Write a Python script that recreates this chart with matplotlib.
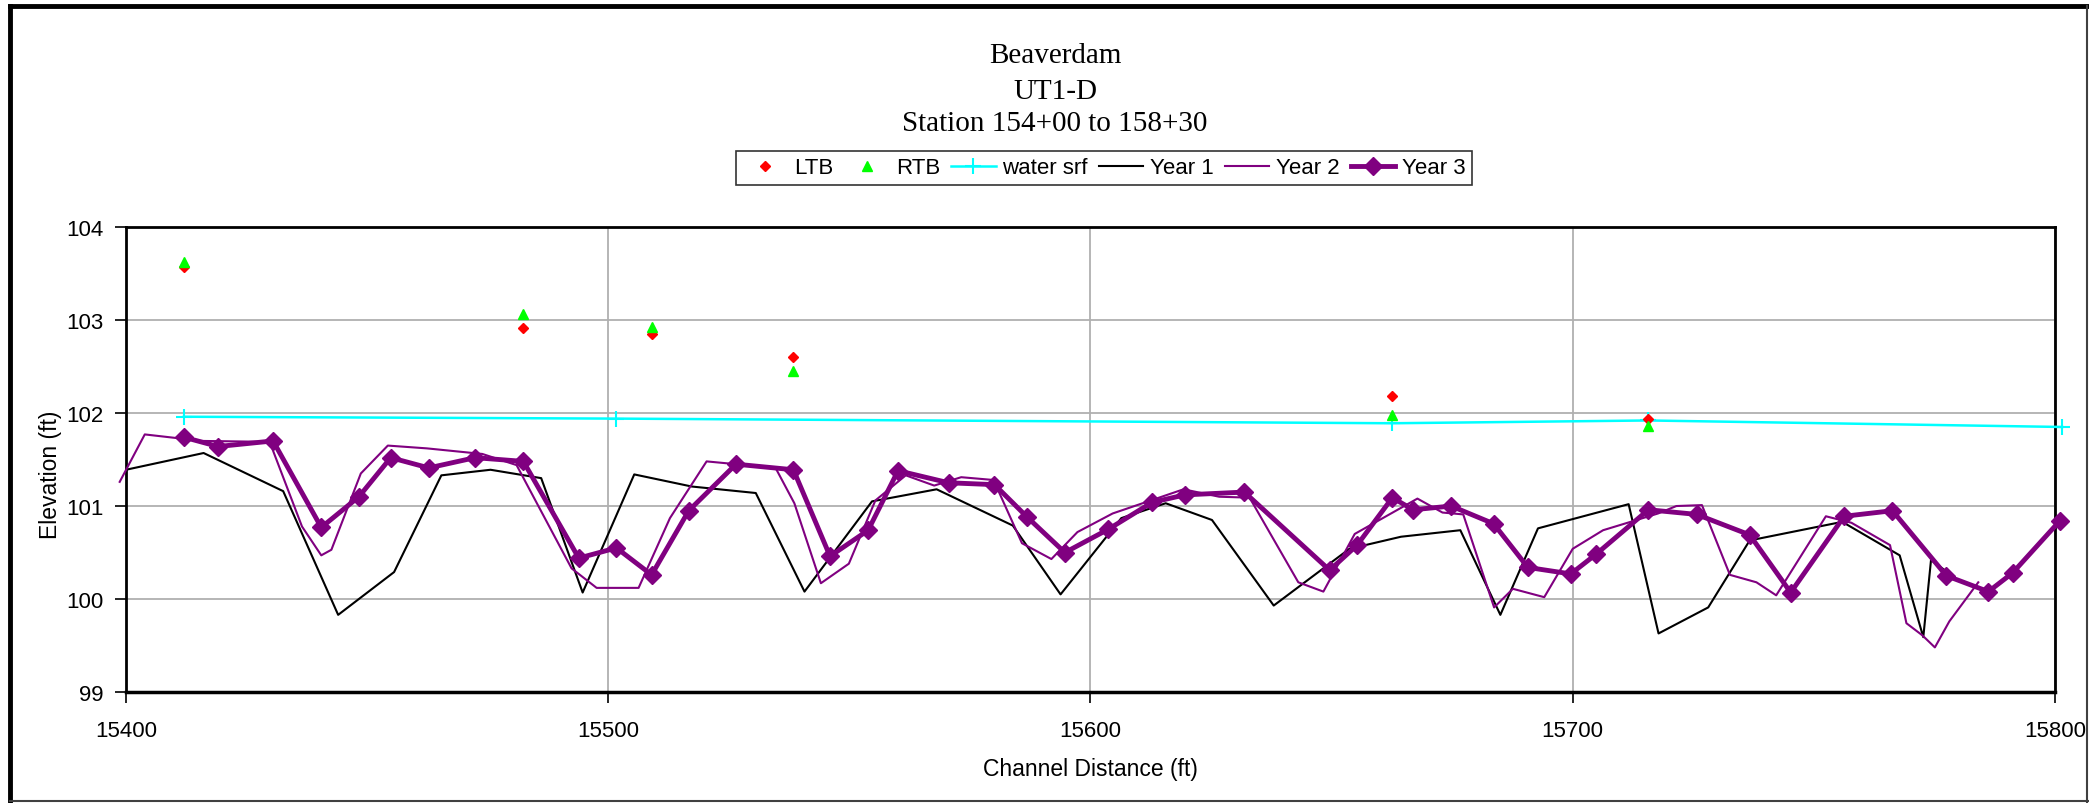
import numpy as np
import matplotlib.pyplot as plt
from matplotlib.lines import Line2D

# bank points
bank_x = [15412.0, 15482.4, 15509.0, 15538.4, 15662.6, 15715.7]
ltb = [103.57, 102.91, 102.85, 102.60, 102.18, 101.94]
rtb = [103.62, 103.07, 102.92, 102.45, 101.98, 101.86]

# water surface
ws_x = [15412.0, 15501.7, 15662.6, 15715.7, 15801.5]
ws_y = [101.96, 101.94, 101.89, 101.92, 101.85]

# Year 1 profile
y1_x = [15400.0, 15416.1, 15432.6, 15444.0, 15455.6, 15465.4, 15475.6, 15486.1,
        15494.7, 15505.4, 15517.3, 15530.6, 15540.7, 15554.7, 15568.1, 15583.9,
        15593.8, 15606.4, 15615.6, 15625.2, 15638.0, 15653.7, 15664.4, 15676.7,
        15685.0, 15692.8, 15711.6, 15717.8, 15728.1, 15736.7, 15755.9, 15767.8,
        15772.7, 15774.3, 15778.2]
y1_y = [101.39, 101.57, 101.16, 99.83, 100.29, 101.33, 101.39, 101.30,
        100.07, 101.34, 101.21, 101.14, 100.08, 101.05, 101.18, 100.79,
        100.05, 100.87, 101.03, 100.85, 99.93, 100.54, 100.67, 100.74,
        99.83, 100.76, 101.02, 99.63, 99.91, 100.63, 100.83, 100.47,
        99.59, 100.42, 100.27]

# Year 2 profile
y2_x = [15398.7, 15403.9, 15415.7, 15429.8, 15436.5, 15440.5, 15442.6, 15448.7,
        15454.3, 15462.4, 15473.9, 15481.0, 15492.4, 15497.6, 15506.3, 15512.8,
        15520.4, 15534.7, 15538.6, 15544.1, 15549.9, 15555.4, 15561.7, 15567.6,
        15573.2, 15579.9, 15585.8, 15591.9, 15597.3, 15604.6, 15619.3, 15626.7,
        15633.0, 15643.1, 15648.3, 15654.8, 15667.8, 15673.0, 15677.3, 15683.7,
        15687.6, 15694.1, 15700.0, 15706.3, 15717.7, 15721.5, 15726.8, 15732.6,
        15738.1, 15742.2, 15752.5, 15757.8, 15765.8, 15769.2, 15772.5, 15775.1,
        15778.1, 15784.1]
y2_y = [101.26, 101.77, 101.70, 101.69, 100.78, 100.47, 100.53, 101.35,
        101.65, 101.62, 101.56, 101.44, 100.33, 100.12, 100.12, 100.87,
        101.48, 101.41, 101.03, 100.17, 100.38, 101.06, 101.33, 101.22,
        101.31, 101.28, 100.60, 100.43, 100.72, 100.92, 101.18, 101.10,
        101.09, 100.18, 100.08, 100.70, 101.08, 100.93, 100.91, 99.91,
        100.11, 100.02, 100.54, 100.74, 100.92, 101.00, 101.01, 100.26,
        100.18, 100.04, 100.89, 100.82, 100.58, 99.74, 99.61, 99.48,
        99.76, 100.18]

# Year 3 profile
y3_x = [15412.0, 15419.1, 15430.5, 15440.5, 15448.3, 15454.9, 15462.8, 15472.4,
        15482.4, 15493.9, 15501.7, 15509.0, 15516.7, 15526.5, 15538.4, 15546.0,
        15553.9, 15560.1, 15570.6, 15580.1, 15586.9, 15594.7, 15603.7, 15612.8,
        15619.6, 15631.9, 15649.6, 15655.3, 15662.6, 15666.9, 15674.8, 15683.6,
        15690.7, 15699.6, 15704.8, 15715.7, 15725.7, 15736.7, 15745.2, 15756.3,
        15766.3, 15777.5, 15786.2, 15791.2, 15801.0]
y3_y = [101.74, 101.64, 101.70, 100.77, 101.10, 101.52, 101.41, 101.52,
        101.48, 100.44, 100.55, 100.26, 100.95, 101.45, 101.39, 100.46,
        100.74, 101.38, 101.25, 101.23, 100.88, 100.50, 100.75, 101.04,
        101.12, 101.15, 100.31, 100.58, 101.09, 100.96, 101.00, 100.81,
        100.34, 100.27, 100.48, 100.96, 100.91, 100.69, 100.07, 100.89,
        100.95, 100.25, 100.08, 100.28, 100.84]

plt.rcParams['font.family'] = ['Liberation Sans', 'DejaVu Sans']

fig = plt.figure(figsize=(20.89, 8.04), dpi=100)
ax = fig.add_axes([0.0603, 0.138, 0.9234, 0.5784])

ax.plot(bank_x, ltb, linestyle='none', marker='D', color='red', markersize=5, label='LTB', zorder=5)
ax.plot(bank_x, rtb, linestyle='none', marker='^', color='#00ff00', markersize=7, label='RTB', zorder=5)
ax.plot(ws_x, ws_y, color='cyan', lw=1.8, marker='+', markersize=12, mew=1.5,
        label='water srf', clip_on=False, zorder=4)
ax.plot(y1_x, y1_y, color='black', lw=1.5, label='Year 1', zorder=3)
ax.plot(y2_x, y2_y, color='#800080', lw=1.5, label='Year 2', clip_on=False, zorder=3)
ax.plot(y3_x, y3_y, color='#800080', lw=3.5, marker='D', markersize=9, label='Year 3',
        clip_on=False, zorder=4)

ax.set_xlim(15400, 15800)
ax.set_ylim(99, 104)
ax.set_xticks([15400, 15500, 15600, 15700, 15800])
ax.set_yticks([99, 100, 101, 102, 103, 104])
ax.grid(True, color='#b0b0b0', lw=1.3)
ax.set_axisbelow(True)
ax.tick_params(direction='out', length=8, width=1.2, labelsize=16, pad=8)
ax.tick_params(axis='x', pad=12)
for side in ax.spines.values():
    side.set_linewidth(2)
ax.spines['bottom'].set_linewidth(2.5)

ax.set_xlabel('Channel Distance (ft)', fontsize=16.5, labelpad=12)
ax.set_ylabel('Elevation (ft)', fontsize=16.5)
ax.yaxis.set_label_coords(-0.033, 0.47)

tfont = ['Liberation Serif', 'DejaVu Serif']
fig.text(0.505, 0.930, 'Beaverdam', ha='center', va='center', fontsize=21, family=tfont)
fig.text(0.505, 0.885, 'UT1-D', ha='center', va='center', fontsize=21, family=tfont)
fig.text(0.505, 0.8455, 'Station 154+00 to 158+30', ha='center', va='center', fontsize=21, family=tfont)

leg = fig.legend(loc='center', bbox_to_anchor=(0.5286, 0.790), ncol=6, fontsize=16,
                 frameon=True, fancybox=False, edgecolor='black', handlelength=2.0,
                 columnspacing=0.5, handletextpad=0.3, borderpad=0.3, borderaxespad=0)
leg.get_frame().set_linewidth(1.2)

# outer chart frame
fig.add_artist(Line2D([0.0048, 0.0048], [0.0, 0.9915], color='black', lw=3.5, transform=fig.transFigure))
fig.add_artist(Line2D([0.0048, 1.0], [0.9915, 0.9915], color='black', lw=3.5, transform=fig.transFigure))
fig.add_artist(Line2D([0.0048, 1.0], [0.002, 0.002], color='#404040', lw=1.5, transform=fig.transFigure))
fig.add_artist(Line2D([0.999, 0.999], [0.0, 0.9915], color='#404040', lw=1.5, transform=fig.transFigure))

fig.savefig('out.png', dpi=100)
